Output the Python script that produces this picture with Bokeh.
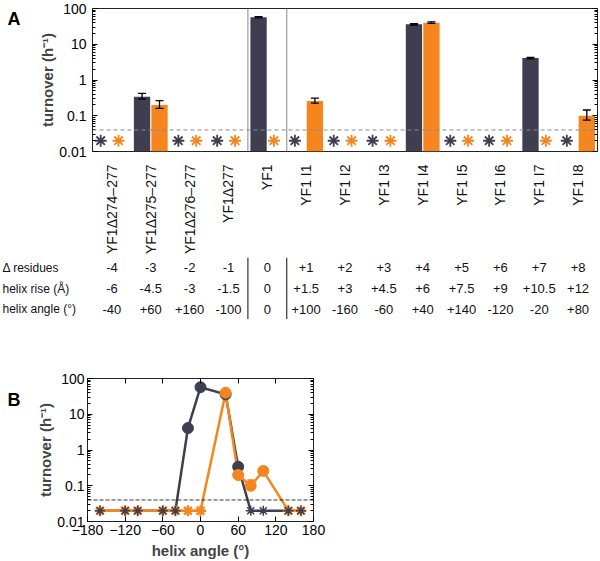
import math
from bokeh.plotting import figure
from bokeh.models import (ColumnDataSource, FactorRange, Range1d, FixedTicker,
                          LogAxis, LinearAxis, Span)
from bokeh.transform import dodge
from bokeh.layouts import column, row
from bokeh.core.properties import value
from bokeh.embed import file_html
from bokeh.resources import INLINE

# ---------------- data ----------------
categories = ["YF1Δ274–277", "YF1Δ275–277", "YF1Δ276–277", "YF1Δ277", "YF1",
              "YF1 I1", "YF1 I2", "YF1 I3", "YF1 I4", "YF1 I5", "YF1 I6", "YF1 I7", "YF1 I8"]
delta_residues = [-4, -3, -2, -1, 0, 1, 2, 3, 4, 5, 6, 7, 8]
helix_rise = [-6, -4.5, -3, -1.5, 0, 1.5, 3, 4.5, 6, 7.5, 9, 10.5, 12]
helix_angle = [-40, 60, 160, -100, 0, 100, -160, -60, 40, 140, -120, -20, 80]
row_labels = ["Δ residues", "helix rise (Å)", "helix angle (°)"]

# turnover (h^-1); None = below detection limit
dark_turnover = [None, 0.34, None, None, 57, None, None, None, 36, None, None, 4.1, None]
dark_err_low = [None, 0.29, None, None, 55, None, None, None, 34.5, None, None, 3.9, None]
dark_err_high = [None, 0.42, None, None, 59, None, None, None, 37.5, None, None, 4.3, None]
orange_turnover = [None, 0.20, None, None, None, 0.26, None, None, 40, None, None, None, 0.10]
orange_err_low = [None, 0.16, None, None, None, 0.225, None, None, 38.5, None, None, None, 0.075]
orange_err_high = [None, 0.265, None, None, None, 0.31, None, None, 42, None, None, None, 0.145]

detection_limit = 0.04
not_detected_level = 0.02
y_ticks = [0.01, 0.1, 1, 10, 100]
y_tick_labels = ["0.01", "0.1", "1", "10", "100"]
angle_ticks = [-180, -120, -60, 0, 60, 120, 180]
angle_tick_labels = ["\u2212180", "\u2212120", "\u221260", "0", "60", "120", "180"]

DARK = "#3f3e50"
ORANGE = "#f5861f"
FONT = "Liberation Sans"

minor_log = [m * 10.0 ** e for e in range(-2, 2) for m in range(2, 10)]


def blank_fig(w, h, xr, yr):
    f = figure(width=w, height=h, x_range=xr, y_range=yr, output_backend="svg",
               toolbar_location=None, min_border_left=0, min_border_right=0,
               min_border_top=0, min_border_bottom=0,
               x_axis_location=None, y_axis_location=None)
    f.grid.visible = False
    f.outline_line_color = None
    return f


def panel_letter(letter, w, h, lx, ly):
    f = blank_fig(w, h, Range1d(0, w), Range1d(h, 0))
    f.text(x=[lx], y=[ly], text=[letter], text_font=value(FONT), text_font_style="bold",
           text_font_size="18px", text_baseline="middle", text_align="left", text_color="black")
    return f


def hide_labels(ax):
    ax.major_label_text_font_size = "1px"
    ax.major_label_text_color = None
    ax.major_label_standoff = 0


def style_log_axis(ax, labels=True):
    ax.ticker = FixedTicker(ticks=y_ticks, minor_ticks=minor_log)
    ax.major_tick_in = 5
    ax.major_tick_out = 0
    ax.minor_tick_in = 3
    ax.minor_tick_out = 0
    ax.major_tick_line_color = "black"
    ax.minor_tick_line_color = "black"
    ax.axis_line_color = None
    if labels:
        ax.major_label_overrides = dict(zip(y_ticks, y_tick_labels))
        ax.major_label_text_font = FONT
        ax.major_label_text_font_size = "14px"
        ax.major_label_text_color = "black"
    else:
        hide_labels(ax)


def split(vals, lo, hi):
    det = dict(cat=[], top=[], lo=[], hi=[], ang=[])
    nd = dict(cat=[], y=[], ang=[])
    for c, v, l, h, a in zip(categories, vals, lo, hi, helix_angle):
        if v is None:
            nd["cat"].append(c)
            nd["y"].append(not_detected_level)
            nd["ang"].append(a)
        else:
            det["cat"].append(c)
            det["top"].append(v)
            det["lo"].append(l)
            det["hi"].append(h)
            det["ang"].append(a)
    return ColumnDataSource(det), ColumnDataSource(nd)


dark_det, dark_nd = split(dark_turnover, dark_err_low, dark_err_high)
orange_det, orange_nd = split(orange_turnover, orange_err_low, orange_err_high)

# ---------------- panel A ----------------
LW = 20          # width of the letter strip
HA = 257
xr = FactorRange(factors=categories, range_padding=0, factor_padding=0)
pA = figure(width=600 - LW, height=HA, x_range=xr, y_range=Range1d(y_ticks[0], y_ticks[-1]),
            y_axis_type="log", output_backend="svg", toolbar_location=None,
            min_border_left=92 - LW, min_border_right=3, min_border_top=8, min_border_bottom=104)
pA.grid.visible = False
pA.outline_line_color = "#222222"

style_log_axis(pA.yaxis[0])
pA.yaxis[0].axis_label = "turnover (h\u207b\u00b9)"
pA.yaxis[0].axis_label_text_font = FONT
pA.yaxis[0].axis_label_text_font_style = "bold"
pA.yaxis[0].axis_label_text_font_size = "15px"
pA.yaxis[0].axis_label_standoff = 0
pA.yaxis[0].major_label_standoff = 6
right_axA = LogAxis()
style_log_axis(right_axA, labels=False)
pA.add_layout(right_axA, "right")

xa = pA.xaxis[0]
xa.major_label_orientation = math.pi / 2
xa.major_label_text_font = FONT
xa.major_label_text_font_size = "14px"
xa.major_label_text_color = "#111111"
xa.major_tick_line_color = None
xa.minor_tick_line_color = None
xa.axis_line_color = None
xa.major_label_standoff = 7

idx_wt = categories.index("YF1")
for loc in (idx_wt, idx_wt + 1):
    pA.add_layout(Span(location=loc, dimension="height", line_color="#9a9a9a", line_width=1.2))
pA.add_layout(Span(location=detection_limit, dimension="width", line_color="#8a8a8a",
                   line_width=1, line_dash="4 3"))

off_dark, off_orange, bw = -0.225, 0.225, 0.42
for src, off, col in ((dark_det, off_dark, DARK), (orange_det, off_orange, ORANGE)):
    xd = dodge("cat", off, range=xr)
    pA.vbar(x=xd, top="top", bottom=y_ticks[0], width=bw, source=src,
            fill_color=col, line_color=None)
    pA.segment(x0=xd, y0="lo", x1=xd, y1="hi", source=src, line_color="black", line_width=1.3)
    pA.scatter(x=xd, y="lo", marker="dash", size=8, source=src, line_color="black", line_width=1.3)
    pA.scatter(x=xd, y="hi", marker="dash", size=8, source=src, line_color="black", line_width=1.3)

for src, off, col in ((dark_nd, -0.29, DARK), (orange_nd, 0.17, ORANGE)):
    pA.scatter(x=dodge("cat", off, range=xr), y="y", marker="asterisk", size=12,
               source=src, line_color=col, line_width=1.8)

letterA = panel_letter("A", LW, HA, 7, 19)

# ---------------- table ----------------
def fmt(v):
    return "0" if v == 0 else f"{v:+g}"

rows = [delta_residues, helix_rise, helix_angle]
row_y = [len(rows) - r - 0.5 for r in range(len(rows))]
tab = dict(cat=[], y=[], txt=[])
for ry, vals in zip(row_y, rows):
    for c, v in zip(categories, vals):
        tab["cat"].append(c)
        tab["y"].append(ry)
        tab["txt"].append(fmt(v))

TH = 62
TL = 92
pT = figure(width=600 - TL, height=TH, x_range=xr, y_range=Range1d(0, len(rows)),
            output_backend="svg", toolbar_location=None,
            min_border_left=0, min_border_right=3, min_border_top=0, min_border_bottom=0,
            x_axis_location=None, y_axis_location=None)
pT.grid.visible = False
pT.outline_line_color = None
pT.text(x="cat", y="y", text="txt", source=ColumnDataSource(tab), text_align="center",
        text_baseline="middle", text_font=value(FONT), text_font_size="13px", text_color="#111111")
for loc in (idx_wt, idx_wt + 1):
    pT.add_layout(Span(location=loc, dimension="height", line_color="#333333", line_width=1.2))

pRows = blank_fig(TL, TH, Range1d(0, TL), Range1d(0, len(rows)))
pRows.text(x=[2] * len(rows), y=row_y, text=row_labels, text_font=value(FONT),
           text_font_size="12px", text_baseline="middle", text_align="left", text_color="#111111")

# ---------------- panel B ----------------
HB = 242
BR = 24
pB = figure(width=306 - LW + BR + 7, height=HB, x_range=Range1d(angle_ticks[0], angle_ticks[-1]),
            y_range=Range1d(y_ticks[0], y_ticks[-1]), y_axis_type="log",
            output_backend="svg", toolbar_location=None,
            min_border_left=87 - LW, min_border_right=BR, min_border_top=59, min_border_bottom=39)
pB.grid.visible = False
pB.outline_line_color = "#222222"
style_log_axis(pB.yaxis[0])
pB.yaxis[0].axis_label = "turnover (h\u207b\u00b9)"
pB.yaxis[0].axis_label_text_font = FONT
pB.yaxis[0].axis_label_text_font_style = "bold"
pB.yaxis[0].axis_label_text_font_size = "15px"
pB.yaxis[0].axis_label_standoff = 0
pB.yaxis[0].major_label_standoff = 3
right_axB = LogAxis()
style_log_axis(right_axB, labels=False)
pB.add_layout(right_axB, "right")


def style_x(ax, labels=True):
    ax.ticker = FixedTicker(ticks=angle_ticks)
    ax.major_tick_in = 5
    ax.major_tick_out = 0
    ax.minor_tick_line_color = None
    ax.axis_line_color = None
    ax.major_tick_line_color = "black"
    if labels:
        ax.major_label_overrides = dict(zip(angle_ticks, angle_tick_labels))
        ax.major_label_text_font = FONT
        ax.major_label_text_font_size = "14px"
        ax.major_label_text_color = "black"
        ax.major_label_standoff = 3
    else:
        hide_labels(ax)


style_x(pB.xaxis[0])
pB.xaxis[0].axis_label = "helix angle (°)"
pB.xaxis[0].axis_label_text_font = FONT
pB.xaxis[0].axis_label_text_font_style = "bold"
pB.xaxis[0].axis_label_text_font_size = "15px"
pB.xaxis[0].axis_label_standoff = 4
top_axB = LinearAxis()
style_x(top_axB, labels=False)
pB.add_layout(top_axB, "above")

pB.add_layout(Span(location=detection_limit, dimension="width", line_color="black",
                   line_width=0.8, line_dash="4 2"))

order = sorted(range(len(categories)), key=lambda i: helix_angle[i])
for vals, col in ((dark_turnover, DARK), (orange_turnover, ORANGE)):
    xs = [helix_angle[i] for i in order]
    ys = [vals[i] if vals[i] is not None else not_detected_level for i in order]
    pB.line(xs, ys, line_color=col, line_width=2.5)

for det, col in ((dark_det, DARK), (orange_det, ORANGE)):
    pB.segment(x0="ang", y0="lo", x1="ang", y1="hi", source=det, line_color=col, line_width=1.3)
    pB.scatter(x="ang", y="lo", marker="dash", size=7, source=det, line_color=col, line_width=1.3)
    pB.scatter(x="ang", y="hi", marker="dash", size=7, source=det, line_color=col, line_width=1.3)
    pB.scatter(x="ang", y="top", marker="circle", size=11, source=det,
               fill_color=col, line_color=col)

pB.scatter(x="ang", y="y", marker="asterisk", size=11, source=orange_nd,
           line_color=ORANGE, line_width=2.4)
pB.scatter(x="ang", y="y", marker="asterisk", size=10, source=dark_nd,
           line_color=DARK, line_width=1.5)

letterB = panel_letter("B", LW, HB, 7, 36)

layout = column(row(letterA, pA, spacing=0), row(pRows, pT, spacing=0),
                row(letterB, pB, spacing=0), spacing=0)
open("out.html", "w").write(file_html(layout, INLINE))
